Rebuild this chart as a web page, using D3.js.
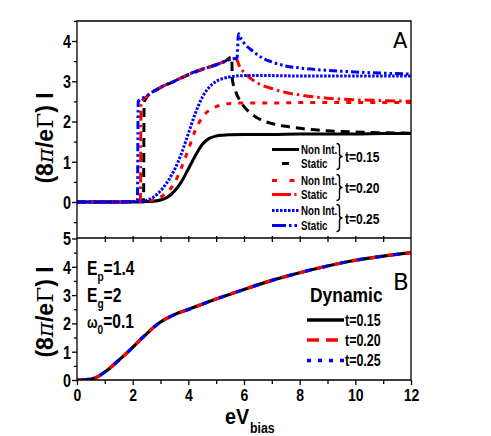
<!DOCTYPE html>
<html><head><meta charset="utf-8">
<script src="https://cdn.jsdelivr.net/npm/d3@7/dist/d3.min.js"></script>
<style>body{margin:0;background:#fff;}</style></head><body>
<svg id="c" width="491" height="436" font-family="Liberation Sans, Arial, sans-serif" font-weight="bold"></svg>
<script>
// ---------- data ----------
const xTicks = [0, 2, 4, 6, 8, 10, 12];
const yTicksA = [0, 1, 2, 3, 4];
const yTicksB = [0, 1, 2, 3, 4, 5];

const xNonInt   = [0, 0.5, 1, 1.5, 2, 2.25, 2.5, 2.75, 3, 3.25, 3.5, 3.75, 4, 4.25, 4.5, 4.75, 5, 5.25, 5.5, 6, 7, 8, 9, 10, 11, 12];
const nonInt015 = [0, 0, 0, 0, 0, 0, 0.01, 0.02, 0.05, 0.12, 0.27, 0.5, 0.82, 1.15, 1.43, 1.58, 1.64, 1.66, 1.67, 1.68, 1.68, 1.69, 1.69, 1.69, 1.70, 1.70];
const nonInt020 = [0, 0, 0, 0, 0, 0.01, 0.02, 0.05, 0.12, 0.25, 0.47, 0.85, 1.3, 1.78, 2.1, 2.28, 2.37, 2.42, 2.45, 2.46, 2.46, 2.47, 2.47, 2.47, 2.47, 2.47];
const nonInt025 = [0, 0, 0, 0, 0.01, 0.02, 0.04, 0.12, 0.28, 0.5, 0.8, 1.2, 1.7, 2.2, 2.6, 2.85, 3.0, 3.07, 3.11, 3.14, 3.14, 3.13, 3.13, 3.13, 3.13, 3.13];

const xStatic015 = [0, 1, 2, 2.3, 2.39, 2.41, 2.5, 2.75, 3, 3.5, 4, 4.5, 5, 5.3, 5.56, 5.58, 5.7, 5.85, 6, 6.25, 6.5, 7, 7.5, 8, 9, 10, 11, 12];
const static015  = [0, 0, 0.01, 0.02, 0.04, 2.46, 2.6, 2.74, 2.84, 3.0, 3.16, 3.29, 3.41, 3.49, 3.6, 3.05, 2.75, 2.52, 2.37, 2.2, 2.08, 1.95, 1.88, 1.83, 1.77, 1.74, 1.72, 1.71];

const xStatic020 = [0, 1, 2, 2.2, 2.28, 2.3, 2.5, 2.75, 3, 3.5, 4, 4.5, 5, 5.3, 5.6, 5.72, 5.85, 6, 6.15, 6.5, 7, 7.5, 8, 9, 10, 11, 12];
const static020  = [0, 0, 0.01, 0.02, 0.03, 2.47, 2.62, 2.75, 2.85, 3.0, 3.17, 3.3, 3.41, 3.49, 3.55, 3.55, 3.35, 3.22, 3.12, 2.95, 2.82, 2.72, 2.66, 2.58, 2.54, 2.52, 2.5];

const xStatic025 = [0, 1, 2, 2.15, 2.17, 2.2, 2.5, 2.75, 3, 3.5, 4, 4.5, 5, 5.3, 5.6, 5.75, 5.8, 5.9, 6, 6.33, 6.6, 7, 7.5, 8, 9, 10, 11, 12];
const static025  = [0, 0, 0.01, 0.02, 0.05, 2.5, 2.63, 2.75, 2.85, 3.0, 3.17, 3.3, 3.41, 3.49, 3.56, 3.57, 4.18, 4.05, 3.95, 3.74, 3.6, 3.48, 3.38, 3.33, 3.27, 3.23, 3.2, 3.18];

const xDynamic = [0, 0.25, 0.5, 0.75, 1, 1.25, 1.5, 1.75, 2, 2.25, 2.5, 2.75, 3, 3.25, 3.5, 4, 4.5, 5, 6, 7, 8, 9, 10, 11, 12];
const dynamic  = [0, 0.01, 0.03, 0.12, 0.28, 0.48, 0.7, 0.92, 1.15, 1.4, 1.63, 1.86, 2.05, 2.19, 2.31, 2.49, 2.68, 2.86, 3.2, 3.52, 3.79, 4.03, 4.23, 4.38, 4.5];

const legendA = ["Non Int.", "Static", "Non Int.", "Static", "Non Int.", "Static"];
const legendAGroups = ["t=0.15", "t=0.20", "t=0.25"];
const legendB = ["t=0.15", "t=0.20", "t=0.25"];

// ---------- layout ----------
const svg = d3.select("#c");
const L = 77, R = 411, TA = 21, MID = 238, BB = 380;
const x = d3.scaleLinear().domain([0, 12]).range([L, R]);
const yA = d3.scaleLinear().domain([0, 4]).range([202, 41]);
const yB = d3.scaleLinear().domain([0, 5]).range([BB, 238.5]);

const NARROW = 0.8;
function narrow(sel, k) {
  sel.each(function () {
    const t = d3.select(this);
    const tx = +t.attr("x") || 0, ty = +t.attr("y") || 0;
    t.attr("transform", `translate(${tx},${ty}) scale(${k},1) translate(${-tx},${-ty})`);
  });
  return sel;
}

const BLACK = "#000", RED = "#ff0000", BLUE = "#0000ff";
const styles = {
  nonInt015: {c: BLACK, d: null},
  static015: {c: BLACK, d: "9,6"},
  nonInt020: {c: RED, d: "5,7"},
  static020: {c: RED, d: "10,4,2.5,4"},
  nonInt025: {c: BLUE, d: "2.5,1.5"},
  static025: {c: BLUE, d: "8,3,2.5,3,2.5,3"}
};

svg.append("clipPath").attr("id", "ca").append("rect")
  .attr("x", L).attr("y", TA).attr("width", R - L).attr("height", MID - TA);
svg.append("clipPath").attr("id", "cb").append("rect")
  .attr("x", L).attr("y", MID).attr("width", R - L).attr("height", BB - MID);

function draw(g, xs, ys, yScale, st, w) {
  const line = d3.line().x(d => x(d[0])).y(d => yScale(d[1])).curve(d3.curveMonotoneX);
  g.append("path").datum(d3.zip(xs, ys)).attr("d", line)
    .attr("fill", "none").attr("stroke", st.c).attr("stroke-width", w || 3)
    .attr("stroke-dasharray", st.d);
}

const gA = svg.append("g").attr("clip-path", "url(#ca)");
draw(gA, xNonInt, nonInt015, yA, styles.nonInt015);
draw(gA, xStatic015, static015, yA, styles.static015);
draw(gA, xNonInt, nonInt020, yA, styles.nonInt020);
draw(gA, xStatic020, static020, yA, styles.static020);
draw(gA, xNonInt, nonInt025, yA, styles.nonInt025);
draw(gA, xStatic025, static025, yA, styles.static025);

const gB = svg.append("g").attr("clip-path", "url(#cb)");
draw(gB, xDynamic, dynamic, yB, {c: BLACK, d: null}, 3.2);
draw(gB, xDynamic, dynamic, yB, {c: RED, d: "6,12"}, 3.2);
draw(gB, xDynamic, dynamic, yB, {c: BLUE, d: "0,6,6,6"}, 3.2);

// ---------- frame & axes ----------
const frame = svg.append("g").attr("stroke", "#000").attr("stroke-width", 1.3).attr("fill", "none");
frame.append("path").attr("d", `M${L},${TA}H${R}V${BB}H${L}Z`);
frame.append("line").attr("x1", L).attr("x2", R).attr("y1", MID).attr("y2", MID);

const axA = d3.axisLeft(yA).tickValues(yTicksA).tickSize(5).tickPadding(1).tickFormat(d3.format("d"));
const axAm = d3.axisLeft(yA).tickValues([-0.5, 0.5, 1.5, 2.5, 3.5, 4.5]).tickSize(3).tickFormat("");
const axB = d3.axisLeft(yB).tickValues(yTicksB).tickSize(5).tickPadding(1).tickFormat(d3.format("d"));
const axBm = d3.axisLeft(yB).tickValues([0.5, 1.5, 2.5, 3.5, 4.5]).tickSize(3).tickFormat("");
[axA, axAm, axB, axBm].forEach(a => {
  const g = svg.append("g").attr("transform", `translate(${L},0)`).call(a);
  g.attr("font-family", null).attr("font-size", null);
  g.select(".domain").remove();
  g.selectAll("line").attr("stroke-width", 1.3);
  narrow(g.selectAll("text").attr("font-size", 18).attr("dy", "0.36em").attr("fill", "#000"), NARROW);
});

const axX = d3.axisBottom(x).tickValues(xTicks).tickSize(5).tickPadding(4);
const axXm = d3.axisBottom(x).tickValues([1, 3, 5, 7, 9, 11]).tickSize(4).tickFormat("");
[axX, axXm].forEach(a => {
  const g = svg.append("g").attr("transform", `translate(0,${BB})`).call(a);
  g.attr("font-family", null).attr("font-size", null);
  g.select(".domain").remove();
  g.selectAll("line").attr("stroke-width", 1.3);
  narrow(g.selectAll("text").attr("font-size", 16.5).attr("fill", "#000"), 0.85);
});
const axMid = d3.axisBottom(x).tickValues(d3.range(1, 12)).tickSize(6).tickFormat("");
const gm = svg.append("g").attr("transform", `translate(0,${MID - 2})`).call(axMid);
gm.select(".domain").remove();
gm.selectAll("line").attr("stroke-width", 1.3);

// axis labels
const xl = svg.append("text").attr("x", 225).attr("y", 424).attr("font-size", 22.5);
xl.append("tspan").text("eV");
xl.append("tspan").attr("font-size", 14).attr("dy", 9).attr("dx", 1).text("bias");
narrow(xl, 0.88);

function yLabel(cy) {
  const t = svg.append("text").attr("transform", `translate(53,${cy}) rotate(-90)`)
    .attr("text-anchor", "middle").attr("font-size", 23);
  t.append("tspan").text("(8");
  t.append("tspan").attr("font-family", "DejaVu Serif").attr("font-style", "italic").attr("font-weight", "normal").text("π");
  t.append("tspan").text("/e");
  t.append("tspan").attr("font-family", "DejaVu Serif").attr("font-weight", "normal").text("Γ");
  t.append("tspan").text(") I");
}
yLabel(138);
yLabel(312);

// panel letters
svg.append("text").attr("x", 393).attr("y", 48).attr("font-size", 21).attr("font-weight", "normal")
  .attr("font-family", "DejaVu Sans").text("A");
svg.append("text").attr("x", 393).attr("y", 290).attr("font-size", 23).attr("font-weight", "normal")
  .attr("font-family", "DejaVu Sans").text("B");

// ---------- legend A ----------
const legStyles = [styles.nonInt015, {c: BLACK, d: "0,10,7,10"}, {c: RED, d: "5,12.5"},
  {c: RED, d: "19,3.5,2,5"}, styles.nonInt025, {c: BLUE, d: "14,3,2.5,3,2.5,3"}];
const legY = [149.5, 163.5, 180.5, 194.5, 210.5, 225.5];
legendA.forEach((lab, i) => {
  const st = legStyles[i];
  svg.append("line").attr("x1", 272).attr("x2", 299).attr("y1", legY[i]).attr("y2", legY[i])
    .attr("stroke", st.c).attr("stroke-width", 3).attr("stroke-dasharray", st.d);
  narrow(svg.append("text").attr("x", 301).attr("y", legY[i]).attr("dy", "0.36em").attr("font-size", 12.5).text(lab), 0.78);
});
legendAGroups.forEach((lab, i) => {
  const top = legY[2 * i] - 6, bot = legY[2 * i + 1] + 6, ym = (top + bot) / 2;
  svg.append("path")
    .attr("d", `M336.5,${top} Q339.5,${top} 339.5,${top + 3} V${ym - 2.5} Q339.5,${ym} 342.5,${ym} Q339.5,${ym} 339.5,${ym + 2.5} V${bot - 3} Q339.5,${bot} 336.5,${bot}`)
    .attr("fill", "none").attr("stroke", "#000").attr("stroke-width", 1.4);
  narrow(svg.append("text").attr("x", 345).attr("y", ym).attr("dy", "0.36em").attr("font-size", 15.5).text(lab), 0.78);
});

// ---------- legend B ----------
narrow(svg.append("text").attr("x", 310).attr("y", 302).attr("font-size", 21).text("Dynamic"), 0.83);
const legBStyles = [{c: BLACK, d: null}, {c: RED, d: "12,7"}, {c: BLUE, d: "4,7"}];
const legBY = [320, 340, 360.5];
legendB.forEach((lab, i) => {
  svg.append("line").attr("x1", 307).attr("x2", 344).attr("y1", legBY[i]).attr("y2", legBY[i])
    .attr("stroke", legBStyles[i].c).attr("stroke-width", 3.5).attr("stroke-dasharray", legBStyles[i].d);
  narrow(svg.append("text").attr("x", 345).attr("y", legBY[i]).attr("dy", "0.36em").attr("font-size", 16).text(lab), 0.78);
});

// ---------- annotations ----------
function ann(yb, main, sub, rest, mainSize) {
  const t = svg.append("text").attr("x", 87).attr("y", yb).attr("font-size", 20);
  t.append("tspan").attr("font-size", mainSize || 20).text(main);
  t.append("tspan").attr("font-size", 13).attr("dy", 6).text(sub);
  t.append("tspan").attr("dy", -6).text(rest);
  narrow(t, 0.78);
}
ann(275, "E", "p", "=1.4");
ann(302, "E", "g", "=2");
ann(328, "ω", "0", "=0.1", 16);
</script>
</body></html>
